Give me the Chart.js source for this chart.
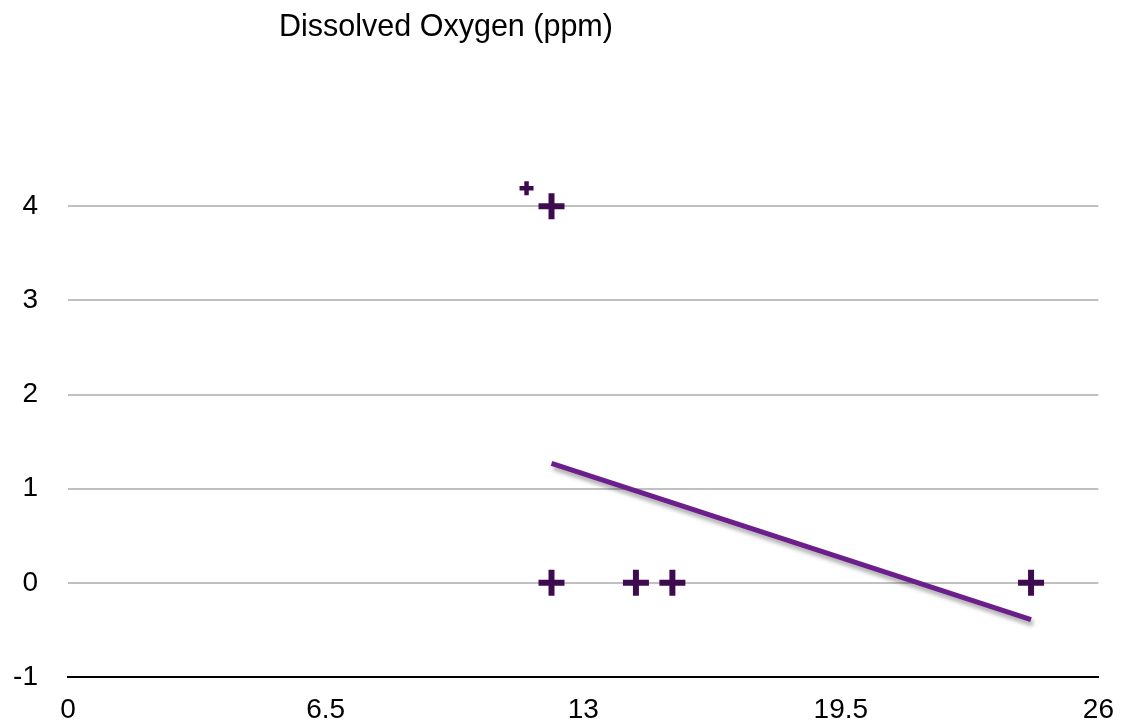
<!DOCTYPE html>
<html>
<head>
<meta charset="utf-8">
<script src="https://cdn.jsdelivr.net/npm/chart.js@4/dist/chart.umd.min.js"></script>
<style>
    html, body { margin: 0; padding: 0; background: #fff; }
    #wrap { position: relative; width: 1130px; height: 727px; }
    #title {
        position: absolute; left: 279px; top: 10px; line-height: 30px;
        font-family: "Liberation Sans", Arial, sans-serif; font-size: 30.5px; color: #000;
        white-space: nowrap;
    }
</style>
</head>
<body>
<div id="wrap">
    <canvas id="chart" width="1130" height="727"></canvas>
    <div id="title">Dissolved Oxygen (ppm)</div>
</div>
<script>
// readings (x, y)
const readingsX = [12.2, 12.2, 14.33, 15.25, 24.3];
const readingsY = [4, 0, 0, 0, 0];
// lone small marker above the 4 line
const smallX = [11.57];
const smallY = [4.19];
// trend line ends
const trendX = [12.2, 24.3];
const trendY = [1.27, -0.39];
const xTicks = [0, 6.5, 13, 19.5, 26];
const yTicks = [-1, 0, 1, 2, 3, 4];

const toPoints = (xs, ys) => xs.map((x, i) => ({ x: x, y: ys[i] }));

const shadowPlugin = {
    id: "lineShadow",
    beforeDatasetDraw(chart, args) {
        if (args.index !== 0) return;
        const ctx = chart.ctx;
        ctx.save();
        ctx.shadowColor = "rgba(0,0,0,0.35)";
        ctx.shadowBlur = 4;
        ctx.shadowOffsetX = 2;
        ctx.shadowOffsetY = 4;
    },
    afterDatasetDraw(chart, args) {
        if (args.index !== 0) return;
        chart.ctx.restore();
    },
};

const font = { family: "'Liberation Sans', Arial, sans-serif", size: 28 };

new Chart(document.getElementById("chart"), {
    type: "scatter",
    data: {
        datasets: [
            {
                type: "line",
                data: toPoints(trendX, trendY),
                borderColor: "#6c1f8c",
                borderWidth: 5,
                pointRadius: 0,
                fill: false,
                clip: false,
            },
            {
                data: toPoints(readingsX, readingsY),
                pointStyle: "cross",
                pointRadius: 13,
                borderWidth: 6,
                borderColor: "#3f0b50",
                backgroundColor: "#3f0b50",
                clip: false,
            },
            {
                data: toPoints(smallX, smallY),
                pointStyle: "cross",
                pointRadius: 7,
                borderWidth: 4.5,
                borderColor: "#3f0b50",
                backgroundColor: "#3f0b50",
                clip: false,
            },
        ],
    },
    options: {
        responsive: false,
        animation: false,
        layout: { padding: { top: 178, right: 30, left: 10, bottom: 0 } },
        plugins: { legend: { display: false }, tooltip: { enabled: false }, title: { display: false } },
        scales: {
            x: {
                type: "linear",
                min: 0,
                max: 26,
                afterBuildTicks: (axis) => { axis.ticks = xTicks.map((v) => ({ value: v })); },
                afterFit: (axis) => { axis.height = 50; },
                grid: { display: false, drawTicks: false },
                border: { display: true, color: "#000", width: 2 },
                ticks: { color: "#000", font: font, padding: 16, maxRotation: 0, autoSkip: false },
            },
            y: {
                min: -1,
                max: 4.3,
                afterBuildTicks: (axis) => { axis.ticks = yTicks.map((v) => ({ value: v })); },
                afterFit: (axis) => { axis.width = 58; },
                grid: { color: "#c0c0c0", lineWidth: 2, drawTicks: false },
                border: { display: false },
                ticks: { color: "#000", font: font, padding: 30 },
            },
        },
    },
    plugins: [shadowPlugin],
});
</script>
</body>
</html>
